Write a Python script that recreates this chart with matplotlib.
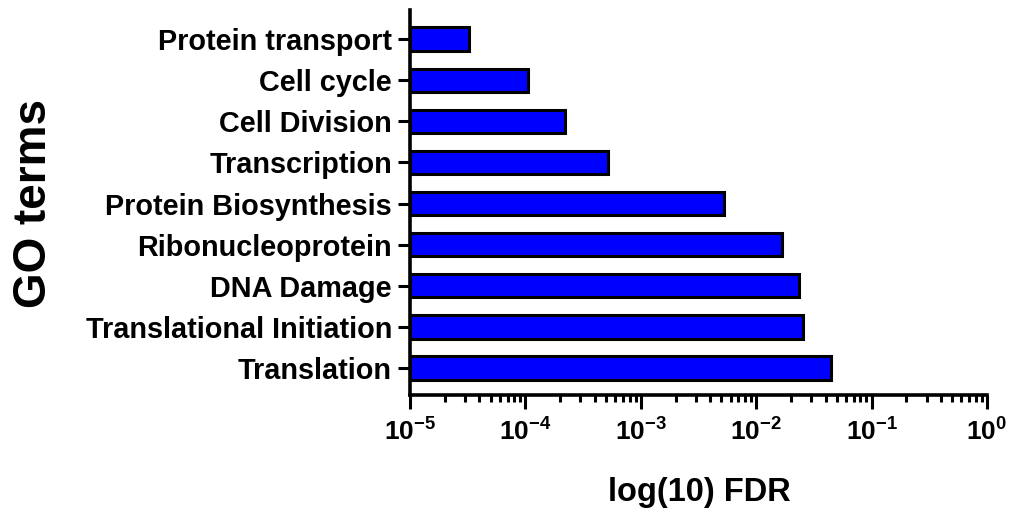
import matplotlib
matplotlib.use("Agg")
import matplotlib.pyplot as plt
import matplotlib.ticker as mticker
import numpy as np

# GO terms, bottom to top
terms = ["Translation", "Translational Initiation", "DNA Damage",
         "Ribonucleoprotein", "Protein Biosynthesis", "Transcription",
         "Cell Division", "Cell cycle", "Protein transport"]
fdr = [0.0445, 0.0255, 0.0235, 0.0168, 0.00526, 0.00052,
       0.00022, 0.000105, 0.0000324]
x_min, x_max = 1e-5, 1.0

plt.rcParams['font.family'] = ['Liberation Sans', 'DejaVu Sans']
plt.rcParams['font.weight'] = 'bold'
plt.rcParams['mathtext.fontset'] = 'custom'
plt.rcParams['mathtext.rm'] = 'Liberation Sans:bold'
plt.rcParams['mathtext.bf'] = 'Liberation Sans:bold'
plt.rcParams['mathtext.default'] = 'bf'

fig = plt.figure(figsize=(10.11, 5.12), dpi=100)
ax = fig.add_axes([410 / 1011, 1 - 395 / 512, (987 - 410) / 1011, 385 / 512])

y = np.arange(len(terms))
vals = np.array(fdr)
ax.barh(y, vals - x_min, left=x_min, height=0.57, color='#0000FF',
        edgecolor='black', linewidth=2.2, zorder=3)

ax.set_xscale('log')
ax.set_xlim(x_min, x_max)
ax.set_ylim(-0.66, 8.71)

ax.set_yticks(y)
ax.set_yticklabels(terms, fontsize=20.8, fontweight='bold')

ax.xaxis.set_major_locator(mticker.LogLocator(base=10, numticks=10))
ax.xaxis.set_minor_locator(mticker.LogLocator(base=10, subs=np.arange(2, 10), numticks=20))
ax.xaxis.set_minor_formatter(mticker.NullFormatter())
ax.xaxis.set_major_formatter(mticker.FuncFormatter(
    lambda v, p: r'$\mathbf{10^{%d}}$' % int(round(np.log10(v)))))
ax.tick_params(axis='x', which='major', length=10, width=2.2, pad=7, labelsize=19)
ax.tick_params(axis='x', which='minor', length=5, width=2.2)
ax.tick_params(axis='y', which='major', length=9, width=2.2, pad=4)

for side in ['top', 'right']:
    ax.spines[side].set_visible(False)
for side in ['left', 'bottom']:
    ax.spines[side].set_linewidth(2.6)

fig.text(34 / 1011, 1 - 203 / 512, 'GO terms', rotation=90, ha='center', va='center',
         fontsize=33, fontweight='bold')
fig.text(699 / 1011, 1 - 493 / 512, 'log(10) FDR', ha='center', va='center',
         fontsize=23.5, fontweight='bold')

fig.savefig('out.png', dpi=100, facecolor='white')
